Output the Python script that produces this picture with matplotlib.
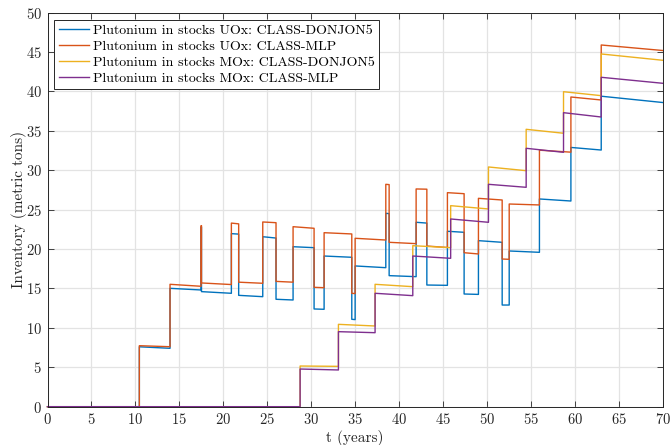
import matplotlib
matplotlib.use("Agg")
import matplotlib.pyplot as plt
import numpy as np

plt.rcParams["font.family"] = ["cmr10", "DejaVu Serif"]
plt.rcParams["mathtext.fontset"] = "cm"
plt.rcParams["axes.formatter.use_mathtext"] = True

# UOx stocks: segment start times (years), level right after the jump and just before the next one
uox_t = [0, 10.45, 13.94, 17.47, 17.52, 20.92, 21.75, 24.49, 26.0, 27.94, 30.33, 31.47,
         34.62, 35.0, 38.49, 38.87, 41.94, 43.16, 45.5, 47.4, 49.03, 51.73, 52.53,
         55.97, 59.55, 63.0]
uox_donjon_start = [0, 7.6, 15.02, 22.8, 14.6, 21.96, 14.13, 21.57, 13.63, 20.3, 12.4, 19.12,
                    11.09, 17.86, 24.54, 16.63, 23.4, 15.44, 22.26, 14.3, 21.07, 12.9, 19.76,
                    26.36, 32.9, 39.4]
uox_donjon_end = [0, 7.41, 14.81, 22.8, 14.39, 21.9, 13.96, 21.4, 13.54, 20.18, 12.36, 18.96,
                  11.05, 17.64, 24.5, 16.5, 23.3, 15.4, 22.13, 14.25, 20.86, 12.9, 19.59,
                  26.1, 32.57, 38.6]
uox_mlp_start = [0, 7.74, 15.53, 22.97, 15.7, 23.3, 15.8, 23.44, 15.9, 22.84, 15.15, 22.08,
                 14.39, 21.37, 28.22, 20.86, 27.63, 20.39, 27.16, 19.54, 26.44, 18.74, 25.72,
                 32.55, 39.3, 45.9]
uox_mlp_end = [0, 7.61, 15.28, 22.97, 15.5, 23.2, 15.66, 23.35, 15.8, 22.64, 15.1, 21.92,
               14.35, 21.15, 28.18, 20.69, 27.6, 20.2, 27.03, 19.38, 26.23, 18.7, 25.6,
               32.3, 38.92, 45.2]

# MOx stocks
mox_t = [0, 28.74, 33.1, 37.27, 41.56, 45.87, 50.17, 54.46, 58.71, 63.0]
mox_donjon_start = [0, 5.16, 10.45, 15.53, 20.43, 25.51, 30.42, 35.2, 39.97, 44.76]
mox_donjon_end = [0, 5.12, 10.24, 15.23, 20.18, 25.09, 29.95, 34.7, 39.47, 43.96]
mox_mlp_start = [0, 4.78, 9.52, 14.39, 19.12, 23.82, 28.22, 32.79, 37.31, 41.8]
mox_mlp_end = [0, 4.66, 9.39, 14.09, 18.83, 23.4, 27.84, 32.28, 36.76, 41.04]

t_end = 70

labels = ["Plutonium in stocks UOx: CLASS-DONJON5",
          "Plutonium in stocks UOx: CLASS-MLP",
          "Plutonium in stocks MOx: CLASS-DONJON5",
          "Plutonium in stocks MOx: CLASS-MLP"]
colors = ["#0072BD", "#D95319", "#EDB120", "#7E2F8E"]


def sawtooth(times, start, end):
    # each segment decays linearly from its start level to its end level
    bounds = list(times) + [t_end]
    xs, ys = [], []
    for i in range(len(times)):
        xs += [bounds[i], bounds[i + 1]]
        ys += [start[i], end[i]]
    return np.array(xs), np.array(ys)


series = [sawtooth(uox_t, uox_donjon_start, uox_donjon_end),
          sawtooth(uox_t, uox_mlp_start, uox_mlp_end),
          sawtooth(mox_t, mox_donjon_start, mox_donjon_end),
          sawtooth(mox_t, mox_mlp_start, mox_mlp_end)]

fig = plt.figure(figsize=(6.71, 4.45), dpi=100)
ax = fig.add_axes([0.0708, 0.0861, 0.9169, 0.8854])

for (x, y), lab, c in zip(series, labels, colors):
    ax.plot(x, y, color=c, lw=1.0, label=lab, clip_on=False)

ax.set_xlim(0, 70)
ax.set_ylim(0, 50)
ax.set_xticks(np.arange(0, 71, 5))
ax.set_yticks(np.arange(0, 51, 5))
ax.grid(True, color="#e3e3e3", lw=0.9)
ax.set_axisbelow(True)
ax.tick_params(direction="in", top=True, right=True, length=4, width=0.6,
               labelsize=10.5, colors="#262626", pad=4)
for s in ax.spines.values():
    s.set_color("#262626")
    s.set_linewidth(0.7)

ax.set_xlabel("t (years)", fontsize=11, color="#262626", labelpad=2)
ax.set_ylabel("Inventory (metric tons)", fontsize=11, color="#262626", labelpad=-1)

leg = ax.legend(loc="upper left", fontsize=10, frameon=True, fancybox=False,
                edgecolor="#262626", framealpha=1, handlelength=2.2, handletextpad=0.3,
                borderpad=0.3, labelspacing=0.25, borderaxespad=0.5)
leg.get_frame().set_linewidth(0.7)

fig.savefig("out.png", dpi=100)
